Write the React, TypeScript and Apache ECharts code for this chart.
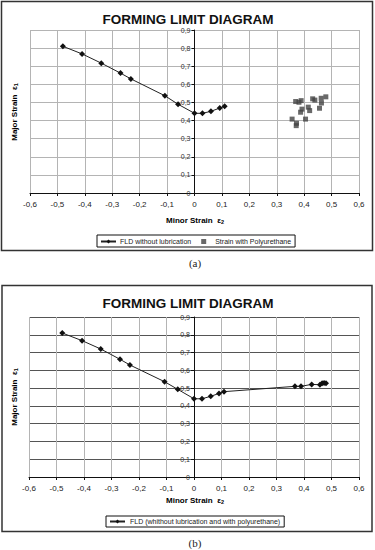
import React, { useEffect, useRef } from "react";
import * as echarts from "echarts";

// Chart (a): FLD without lubrication
const fldAX = [-0.48, -0.41, -0.34, -0.27, -0.232, -0.108, -0.06, 0, 0.029, 0.06, 0.092, 0.11];
const fldAY = [0.81, 0.768, 0.717, 0.662, 0.63, 0.537, 0.49, 0.44, 0.44, 0.451, 0.469, 0.479];

// Chart (a): Strain with Polyurethane
const polyX = [0.369, 0.381, 0.389, 0.392, 0.387, 0.356, 0.372, 0.371, 0.405, 0.415, 0.42, 0.431, 0.439, 0.456, 0.463, 0.462, 0.479];
const polyY = [0.505, 0.501, 0.51, 0.463, 0.446, 0.408, 0.385, 0.372, 0.408, 0.474, 0.455, 0.52, 0.513, 0.468, 0.497, 0.523, 0.531];

// Chart (b): FLD (without lubrication and with polyurethane)
const fldBX = [-0.479, -0.407, -0.339, -0.269, -0.233, -0.107, -0.059, 0, 0.029, 0.061, 0.091, 0.109, 0.367, 0.389, 0.428, 0.458, 0.466, 0.473, 0.48];
const fldBY = [0.81, 0.767, 0.72, 0.662, 0.63, 0.536, 0.493, 0.44, 0.44, 0.454, 0.47, 0.48, 0.51, 0.51, 0.521, 0.519, 0.528, 0.529, 0.527];

const titleText = "FORMING LIMIT DIAGRAM";
const legendA = ["FLD without lubrication", "Strain with Polyurethane"];
const legendB = ["FLD (whithout lubrication and with polyurethane)"];
const captions = ["(a)", "(b)"];

const FONT = "Liberation Sans, Arial, sans-serif";

const fmt = (v: number) => {
  if (Math.abs(v) < 1e-9) return "0";
  return String(Math.round(v * 10) / 10).replace(".", ",");
};

const pairs = (xs: number[], ys: number[]) => xs.map((x, i) => [x, ys[i]]);

function makeXAxis(gridIndex: number) {
  return {
    type: "value",
    gridIndex,
    min: -0.6,
    max: 0.6,
    interval: 0.1,
    axisLine: { onZero: false, lineStyle: { color: "#111", width: 1 } },
    axisTick: { show: true, length: 3, lineStyle: { color: "#111" } },
    axisLabel: { formatter: fmt, fontSize: 8, color: "#222", fontFamily: FONT, margin: 7 },
    splitLine: { show: true, lineStyle: { color: "#b4b4b4", width: 1 } },
  };
}

function makeYAxis(gridIndex: number, hColor: string, offset: number) {
  return {
    type: "value",
    gridIndex,
    min: 0,
    max: 0.9,
    interval: 0.1,
    offset,
    axisLine: { onZero: false, lineStyle: { color: "#111", width: 1 } },
    axisTick: { show: true, length: 3, lineStyle: { color: "#111" } },
    axisLabel: { formatter: fmt, fontSize: 7, color: "#333", fontFamily: FONT, margin: 4 },
    splitLine: { show: true, lineStyle: { color: hColor, width: 1 } },
  };
}

const axisNameRich = {
  b: { fontSize: 8, fontWeight: "bold", fontFamily: FONT, color: "#111" },
  e: { fontSize: 8, fontWeight: "bold", fontFamily: FONT, color: "#111" },
  s: { fontSize: 5.5, fontWeight: "bold", fontFamily: FONT, color: "#111", padding: [4, 0, 0, 0] },
};

const SQUARE = "path://M0,0h1v1h-1z";

export default function App() {
  const ref = useRef<HTMLDivElement>(null);
  useEffect(() => {
    document.body.style.margin = "0";
    const chart = echarts.init(ref.current!, undefined, { renderer: "svg" });
    chart.setOption({
      animation: false,
      backgroundColor: "#fff",
      title: [
        {
          text: titleText,
          left: 188,
          top: 12.5,
          textAlign: "center",
          padding: 0,
          textStyle: { fontSize: 13.5, lineHeight: 13, fontWeight: "bold", fontFamily: FONT, color: "#111" },
        },
        {
          text: titleText,
          left: 188,
          top: 296.5,
          textAlign: "center",
          padding: 0,
          textStyle: { fontSize: 13.5, lineHeight: 13, fontWeight: "bold", fontFamily: FONT, color: "#111" },
        },
      ],
      grid: [
        { left: 30, top: 30, width: 329, height: 163, show: false },
        { left: 29, top: 317, width: 330, height: 160, show: false },
      ],
      xAxis: [makeXAxis(0), makeXAxis(1)],
      yAxis: [makeYAxis(0, "#b4b4b4", -164.5), makeYAxis(1, "#555", -165)],
      legend: [
        {
          data: [{ name: legendA[0] }, { name: legendA[1], icon: SQUARE }],
          left: 97,
          top: 235,
          padding: [3, 4, 2, 3],
          itemGap: 10,
          itemWidth: 15,
          itemHeight: 5,
          borderColor: "#111",
          borderWidth: 1,
          textStyle: { fontSize: 7, fontFamily: FONT, color: "#222", padding: [0, 0, 0, -1] },
        },
        {
          data: legendB,
          left: 106,
          top: 516,
          padding: [2, 4, 2, 3],
          itemWidth: 15,
          itemHeight: 5,
          borderColor: "#111",
          borderWidth: 1,
          textStyle: { fontSize: 7, fontFamily: FONT, color: "#222" },
        },
      ],
      series: [
        {
          name: legendA[0],
          type: "line",
          xAxisIndex: 0,
          yAxisIndex: 0,
          data: pairs(fldAX, fldAY),
          symbol: "diamond",
          symbolSize: 6,
          lineStyle: { color: "#222", width: 1 },
          itemStyle: { color: "#111" },
        },
        {
          name: legendA[1],
          type: "scatter",
          xAxisIndex: 0,
          yAxisIndex: 0,
          data: pairs(polyX, polyY),
          symbol: "rect",
          symbolSize: 5,
          itemStyle: { color: "#444" },
        },
        {
          name: legendB[0],
          type: "line",
          xAxisIndex: 1,
          yAxisIndex: 1,
          data: pairs(fldBX, fldBY),
          symbol: "diamond",
          symbolSize: 6,
          lineStyle: { color: "#222", width: 1 },
          itemStyle: { color: "#111" },
        },
      ],
      graphic: [
        {
          type: "rect",
          shape: { x: 1.5, y: 1.5, width: 371, height: 249 },
          style: { fill: "none", stroke: "#333", lineWidth: 1.5 },
          z: -1,
        },
        {
          type: "rect",
          shape: { x: 2, y: 285.5, width: 370, height: 246 },
          style: { fill: "none", stroke: "#333", lineWidth: 1.5 },
          z: -1,
        },
        {
          type: "text",
          x: 195,
          y: 220,
          style: {
            text: "{b|Minor Strain  }{e|ε}{s|2}",
            rich: axisNameRich,
            align: "center",
            verticalAlign: "middle",
          },
        },
        {
          type: "text",
          x: 195,
          y: 500,
          style: {
            text: "{b|Minor Strain  }{e|ε}{s|2}",
            rich: axisNameRich,
            align: "center",
            verticalAlign: "middle",
          },
        },
        {
          type: "text",
          x: 14,
          y: 112,
          rotation: Math.PI / 2,
          style: {
            text: "{b|Major Strain  }{e|ε}{s|1}",
            rich: axisNameRich,
            align: "center",
            verticalAlign: "middle",
          },
        },
        {
          type: "text",
          x: 14,
          y: 397,
          rotation: Math.PI / 2,
          style: {
            text: "{b|Major Strain  }{e|ε}{s|1}",
            rich: axisNameRich,
            align: "center",
            verticalAlign: "middle",
          },
        },
        {
          type: "text",
          x: 195,
          y: 263,
          style: {
            text: captions[0],
            fontSize: 11,
            fontFamily: "Liberation Serif, Times New Roman, serif",
            fill: "#222",
            align: "center",
            verticalAlign: "middle",
          },
        },
        {
          type: "text",
          x: 195,
          y: 543,
          style: {
            text: captions[1],
            fontSize: 11,
            fontFamily: "Liberation Serif, Times New Roman, serif",
            fill: "#222",
            align: "center",
            verticalAlign: "middle",
          },
        },
      ],
    });
    return () => chart.dispose();
  }, []);
  return (
    <div
      ref={ref}
      style={{ position: "fixed", left: 0, top: 0, width: 375, height: 550 }}
    />
  );
}
